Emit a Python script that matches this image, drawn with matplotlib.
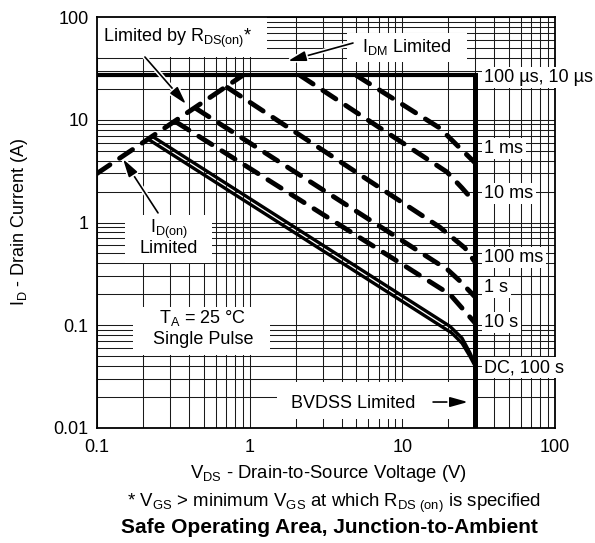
import matplotlib
matplotlib.use("Agg")
import matplotlib.pyplot as plt
import matplotlib.patches as mpatches
import matplotlib.patheffects as pe
from matplotlib.ticker import LogLocator, NullFormatter

plt.rcParams["font.family"] = ["Liberation Sans", "DejaVu Sans"]
plt.rcParams["mathtext.fontset"] = "custom"
plt.rcParams["mathtext.rm"] = "Liberation Sans"
plt.rcParams["mathtext.it"] = "Liberation Sans:italic"
plt.rcParams["mathtext.bf"] = "Liberation Sans:bold"

# ── data ─────────────────────────────────────────────────────────────
X_TICKS = [0.1, 1, 10, 100]
X_TICK_LABELS = ["0.1", "1", "10", "100"]
Y_TICKS = [0.01, 0.1, 1, 10, 100]
Y_TICK_LABELS = ["0.01", "0.1", "1", "10", "100"]

I_DM = 27.0      # pulsed drain current limit (A)
BVDSS = 30.0     # breakdown voltage limit (V)

V_RDS = [0.1, 0.9]
I_RDS = [3.0, 27.0]

V_1MS = [5.0, 17.6, 23.1, 30.0]
I_1MS = [27.0, 8.3, 5.55, 3.8]

V_10MS = [2.14, 19.6, 24.6, 30.0]
I_10MS = [27.0, 3.1, 2.17, 1.55]

V_100MS = [0.715, 17.6, 25.7, 30.0]
I_100MS = [20.6, 0.90, 0.565, 0.41]

V_1S = [0.444, 19.9, 23.8, 30.0]
I_1S = [12.9, 0.345, 0.27, 0.188]

V_10S = [0.328, 20.5, 24.9, 30.0]
I_10S = [9.55, 0.20, 0.144, 0.105]

V_100S = [0.23, 20.5, 24.6, 27.7, 30.0]
I_100S = [6.9, 0.0976, 0.075, 0.054, 0.041]

V_DC = [0.217, 21.1, 24.6, 27.7, 30.0]
I_DC = [6.45, 0.084, 0.067, 0.050, 0.040]

DASHED = [(V_RDS, I_RDS), (V_1MS, I_1MS), (V_10MS, I_10MS),
          (V_100MS, I_100MS), (V_1S, I_1S), (V_10S, I_10S)]

# right-hand curve labels: (text, current at baseline)
CURVE_LABELS = [
    ("100 µs, 10 µs", 23.3),
    ("1 ms", 4.75),
    ("10 ms", 1.73),
    ("100 ms", 0.413),
    ("1 s", 0.211),
    ("10 s", 0.096),
    ("DC, 100 s", 0.035),
]

# ── figure ───────────────────────────────────────────────────────────
W, H = 595, 543
fig = plt.figure(figsize=(W / 100, H / 100), dpi=100)
ax = fig.add_axes([97 / W, 1 - 428 / H, 458 / W, 411 / H])
ax.set_xscale("log")
ax.set_yscale("log")
ax.set_xlim(0.1, 100)
ax.set_ylim(0.01, 100)
ax.set_xticks(X_TICKS)
ax.set_xticklabels(X_TICK_LABELS)
ax.set_yticks(Y_TICKS)
ax.set_yticklabels(Y_TICK_LABELS)
for axis in (ax.xaxis, ax.yaxis):
    axis.set_minor_locator(LogLocator(base=10, subs=range(2, 10)))
    axis.set_minor_formatter(NullFormatter())
ax.tick_params(which="both", length=0, labelsize=13)
ax.tick_params(axis="x", pad=8)
ax.tick_params(axis="y", pad=6)
ax.set_axisbelow(True)
ax.grid(True, which="both", color="#1a1a1a", lw=0.75)
for sp in ax.spines.values():
    sp.set_linewidth(1.3)

# white boxes that blank the grid behind the notes
MASKS = [
    (0.1, 1.30, 40.8, 100),
    (4.34, 26.5, 36.5, 69.9),
    (0.1525, 0.566, 0.404, 1.18),
    (0.172, 1.358, 0.0513, 0.151),
    (1.51, 29.0, 0.01224, 0.028),
]
for x0, x1, y0, y1 in MASKS:
    ax.add_patch(mpatches.Rectangle((x0, y0), x1 - x0, y1 - y0,
                                    fc="white", ec="none", zorder=1))

# curves
for v, i in DASHED:
    ax.plot(v, i, color="black", lw=3.5, ls=(0, (3.2, 2.4)),
            dash_capstyle="round", zorder=3)
for v, i in [(V_DC, I_DC), (V_100S, I_100S)]:
    ax.plot(v, i, color="black", lw=2.4, solid_joinstyle="round", zorder=3)

ax.plot([0.1, BVDSS], [I_DM, I_DM], color="black", lw=3.0,
        solid_capstyle="butt", zorder=3)
ax.plot([BVDSS, BVDSS], [I_DM, 0.01], color="black", lw=3.6,
        solid_capstyle="projecting", zorder=3)

# labels at the right
for txt, y in CURVE_LABELS:
    ax.text(34.5, y, txt, fontsize=13, ha="left", va="baseline",
            clip_on=False, zorder=4,
            bbox=dict(fc="white", ec="none", pad=1.5))

# notes inside the chart
ax.text(0.1095, 57.1, r"Limited by R$_{\mathrm{DS(on)}}$*", fontsize=13,
        ha="left", va="baseline", zorder=4)
ax.text(5.41, 45.6, r"I$_{\mathrm{DM}}$ Limited", fontsize=13,
        ha="left", va="baseline", zorder=4)
ax.text(0.296, 0.79, r"I$_{\mathrm{D(on)}}$", fontsize=13,
        ha="center", va="baseline", zorder=4)
ax.text(0.296, 0.505, "Limited", fontsize=13,
        ha="center", va="baseline", zorder=4)
ax.text(0.494, 0.105, r"T$_{\mathrm{A}}$ = 25 °C", fontsize=13,
        ha="center", va="baseline", zorder=4)
ax.text(0.494, 0.0657, "Single Pulse", fontsize=13,
        ha="center", va="baseline", zorder=4)
ax.text(12.1, 0.01565, "BVDSS Limited", fontsize=13,
        ha="right", va="baseline", zorder=4)

halo = [pe.withStroke(linewidth=3.5, foreground="white")]
ARROWS = [
    ((0.383, 14.2), (0.206, 40.8)),
    ((1.78, 37.3), (4.75, 55.8)),
    ((0.148, 4.15), (0.251, 1.24)),
    ((26.9, 0.0179), (15.9, 0.0179)),
]
for tip, tail in ARROWS:
    ax.annotate("", xy=tip, xytext=tail, zorder=5,
                arrowprops=dict(arrowstyle="-|>,head_length=0.9,head_width=0.25",
                                color="black", lw=1.2, shrinkA=0, shrinkB=0,
                                mutation_scale=12, path_effects=halo))

# axis titles and footnote
fig.text(20 / W, 1 - 222 / H, r"I$_{\mathrm{D}}$ - Drain Current (A)",
         rotation=90, fontsize=13, ha="center", va="center")
fig.text(190 / W, 1 - 478 / H, r"V$_{\mathrm{DS}}$ - Drain-to-Source Voltage (V)",
         fontsize=13.3, ha="left", va="baseline")
fig.text(127 / W, 1 - 507 / H,
         r"* V$_{\mathrm{GS}}$ > minimum V$_{\mathrm{GS}}$ at which R$_{\mathrm{DS\ (on)}}$ is specified",
         fontsize=13.4, ha="left", va="baseline")
fig.text(121 / W, 1 - 533 / H, "Safe Operating Area, Junction-to-Ambient",
         fontsize=15, fontweight="bold", ha="left", va="baseline")

fig.savefig("out.png", dpi=100)
